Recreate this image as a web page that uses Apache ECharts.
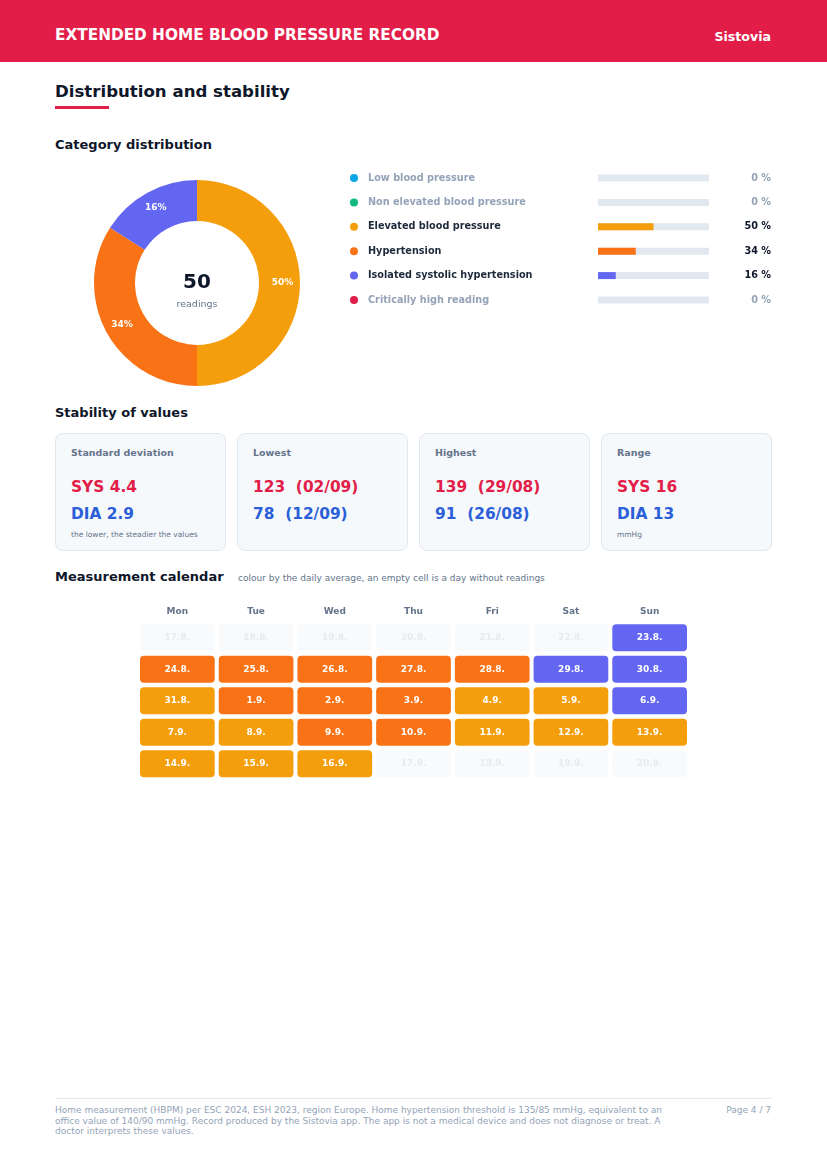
<!DOCTYPE html>
<html>
<head>
<meta charset="utf-8">
<script src="https://cdn.jsdelivr.net/npm/echarts@6/dist/echarts.min.js"></script>
<style>
  html,body{margin:0;padding:0;background:#fff;}
  body{width:827px;height:1170px;position:relative;font-family:"DejaVu Sans",sans-serif;overflow:hidden;}
  .abs{position:absolute;white-space:nowrap;}
  #header{position:absolute;left:0;top:0;width:827px;height:62px;background:#e11d48;}
  .card{position:absolute;top:433px;width:169px;height:116px;background:#f6f9fc;border:1px solid #e2e8f0;border-radius:8px;}
  .card .t{position:absolute;left:15px;top:13px;font-size:9.5px;font-weight:bold;color:#64748b;}
  .card .s{position:absolute;left:15px;top:44px;font-size:15.4px;font-weight:bold;color:#e11d48;white-space:pre;}
  .card .d{position:absolute;left:15px;top:71px;font-size:15.4px;font-weight:bold;color:#2b5fd9;white-space:pre;}
  .card .n{position:absolute;left:15px;top:96px;font-size:7.5px;color:#64748b;}
</style>
</head>
<body>
<div id="header"></div>
<div class="abs" style="left:55px;top:26px;font-size:15.3px;font-weight:bold;color:#fff;">EXTENDED HOME BLOOD PRESSURE RECORD</div>
<div class="abs" style="right:56px;top:29px;font-size:12.6px;font-weight:bold;color:#fff;">Sistovia</div>

<div class="abs" style="left:55px;top:82px;font-size:16.6px;font-weight:bold;color:#0f172a;">Distribution and stability</div>
<div class="abs" style="left:55px;top:106px;width:54px;height:3px;background:#e11d48;"></div>

<div class="abs" style="left:55px;top:137px;font-size:13px;font-weight:bold;color:#0f172a;">Category distribution</div>
<div id="donut" class="abs" style="left:87px;top:173px;width:220px;height:220px;"></div>
<div id="bars" class="abs" style="left:0px;top:161px;width:827px;height:160px;"></div>

<div class="abs" style="left:55px;top:405px;font-size:13px;font-weight:bold;color:#0f172a;">Stability of values</div>
<div id="cards"></div>

<div class="abs" style="left:55px;top:569px;font-size:13px;font-weight:bold;color:#0f172a;">Measurement calendar</div>
<div class="abs" style="left:238px;top:573px;font-size:9px;color:#64748b;">colour by the daily average, an empty cell is a day without readings</div>
<div id="cal" class="abs" style="left:130px;top:595px;width:570px;height:195px;"></div>

<div class="abs" style="left:55px;top:1098px;width:716px;height:1px;background:#e2e8f0;"></div>
<div class="abs" style="left:55px;top:1105px;width:620px;white-space:normal;font-size:9px;line-height:10.5px;color:#94a3b8;">Home measurement (HBPM) per ESC 2024, ESH 2023, region Europe. Home hypertension threshold is 135/85 mmHg, equivalent to an office value of 140/90 mmHg. Record produced by the Sistovia app. The app is not a medical device and does not diagnose or treat. A doctor interprets these values.</div>
<div class="abs" style="right:56px;top:1105px;font-size:9px;color:#94a3b8;">Page 4 / 7</div>

<script>
// ---- data ----
var categoryNames = ["Low blood pressure","Non elevated blood pressure","Elevated blood pressure","Hypertension","Isolated systolic hypertension","Critically high reading"];
var categoryColors = ["#0ea5e9","#10b981","#f59e0b","#f97316","#6366f1","#e11d48"];
var categoryPercent = [0,0,50,34,16,0];
var totalReadings = 50;

var cardTitles = ["Standard deviation","Lowest","Highest","Range"];
var cardSys = ["SYS 4.4","123  (02/09)","139  (29/08)","SYS 16"];
var cardDia = ["DIA 2.9","78  (12/09)","91  (26/08)","DIA 13"];
var cardNotes = ["the lower, the steadier the values","","","mmHg"];

var weekDays = ["Mon","Tue","Wed","Thu","Fri","Sat","Sun"];
var calendarDates = [
  "17.8.","18.8.","19.8.","20.8.","21.8.","22.8.","23.8.",
  "24.8.","25.8.","26.8.","27.8.","28.8.","29.8.","30.8.",
  "31.8.","1.9.","2.9.","3.9.","4.9.","5.9.","6.9.",
  "7.9.","8.9.","9.9.","10.9.","11.9.","12.9.","13.9.",
  "14.9.","15.9.","16.9.","17.9.","18.9.","19.9.","20.9."
];
// category index per day (-1 = no readings)
var calendarCategory = [
  -1,-1,-1,-1,-1,-1,4,
  3,3,3,3,3,4,4,
  2,3,3,3,2,2,4,
  2,2,3,3,2,2,2,
  2,2,2,-1,-1,-1,-1
];

// ---- cards ----
var cardsEl = document.getElementById('cards');
cardTitles.forEach(function(t,i){
  var c = document.createElement('div');
  c.className='card';
  c.style.left = (55 + i*182) + 'px';
  c.innerHTML = '<div class="t">'+t+'</div><div class="s">'+cardSys[i]+'</div><div class="d">'+cardDia[i]+'</div><div class="n">'+cardNotes[i]+'</div>';
  cardsEl.appendChild(c);
});

var FONT = '"DejaVu Sans", sans-serif';

// ---- donut ----
var donut = echarts.init(document.getElementById('donut'), null, {renderer:'canvas'});
var pieData = [];
categoryNames.forEach(function(n,i){
  if (categoryPercent[i] > 0) pieData.push({name:n, value:categoryPercent[i], itemStyle:{color:categoryColors[i]}});
});
donut.setOption({
  animation:false,
  graphic:[
    {type:'text', left:'center', top:100, style:{text:String(totalReadings), fontSize:20, fontWeight:'bold', fill:'#0f172a', fontFamily:FONT}},
    {type:'text', left:'center', top:127, style:{text:'readings', fontSize:9.5, fill:'#64748b', fontFamily:FONT}}
  ],
  series:[{
    type:'pie', center:[110,110], radius:[62,103], startAngle:90, clockwise:true,
    silent:true, data:pieData,
    label:{show:true, position:'inside', formatter:'{c}%', color:'#fff', fontSize:9, fontWeight:'bold', fontFamily:FONT},
    labelLine:{show:false}, itemStyle:{borderWidth:0}
  }]
});

// ---- category bars ----
var bars = echarts.init(document.getElementById('bars'));
var richL = {};
categoryColors.forEach(function(c,i){
  richL['d'+i] = {width:8, height:8, borderRadius:4, backgroundColor:c};
  richL['a'+i] = {fontSize:9.7, fontWeight:'bold', fontFamily:FONT, color: categoryPercent[i]>0 ? '#1e293b' : '#94a3b8', padding:[0,0,0,10]};
});
bars.setOption({
  animation:false,
  grid:{left:598, right:118, top:4.8, bottom:8.8},
  xAxis:{type:'value', min:0, max:100, show:false},
  yAxis:[
    {type:'category', inverse:true, data:categoryNames, axisLine:{show:false}, axisTick:{show:false},
     axisLabel:{align:'left', margin:248, formatter:function(v,i){return '{d'+i+'|}{a'+i+'|'+v+'}';}, rich:richL}},
    {type:'category', inverse:true, position:'right', data:categoryPercent.map(function(p){return p+' %';}),
     axisLine:{show:false}, axisTick:{show:false},
     axisLabel:{align:'right', margin:62, fontSize:9.7, fontWeight:'bold', fontFamily:FONT,
       color:function(v,i){return categoryPercent[i]>0?'#0f172a':'#94a3b8';}}}
  ],
  series:[{
    type:'bar', barWidth:7, silent:true, showBackground:true, backgroundStyle:{color:'#e2e8f0'},
    data:categoryPercent.map(function(p,i){return {value:p, itemStyle:{color:categoryColors[i]}};})
  }]
});

// ---- calendar ----
var cal = echarts.init(document.getElementById('cal'));
var calData = calendarDates.map(function(d,i){return [i%7, Math.floor(i/7), calendarCategory[i], d];});
cal.setOption({
  animation:false,
  grid:{left:8, width:551, top:27, height:157.5},
  xAxis:{type:'category', position:'top', data:weekDays, axisLine:{show:false}, axisTick:{show:false}, splitLine:{show:false},
    axisLabel:{margin:6, fontSize:9, fontWeight:'bold', color:'#64748b', fontFamily:FONT}},
  yAxis:{type:'category', inverse:true, data:['w1','w2','w3','w4','w5'], show:false},
  series:[{
    type:'custom', silent:true, data:calData,
    encode:{x:0, y:1},
    renderItem:function(params, api){
      var c = api.coord([api.value(0), api.value(1)]);
      var s = api.size([1,1]);
      var w = s[0]-4, h = s[1]-4.5;
      var cat = api.value(2);
      var idx = params.dataIndex;
      var filled = cat >= 0;
      return {type:'group', children:[
        {type:'rect', shape:{x:c[0]-w/2, y:c[1]-h/2, width:w, height:h, r:4},
         style:{fill: filled ? categoryColors[cat] : '#f8fafc'}},
        {type:'text', style:{text:calendarDates[idx], x:c[0], y:c[1], align:'center', verticalAlign:'middle',
          fontSize:9, fontWeight:'bold', fontFamily:FONT, fill: filled ? '#ffffff' : '#e7ebf0'}}
      ]};
    }
  }]
});
</script>
</body>
</html>
